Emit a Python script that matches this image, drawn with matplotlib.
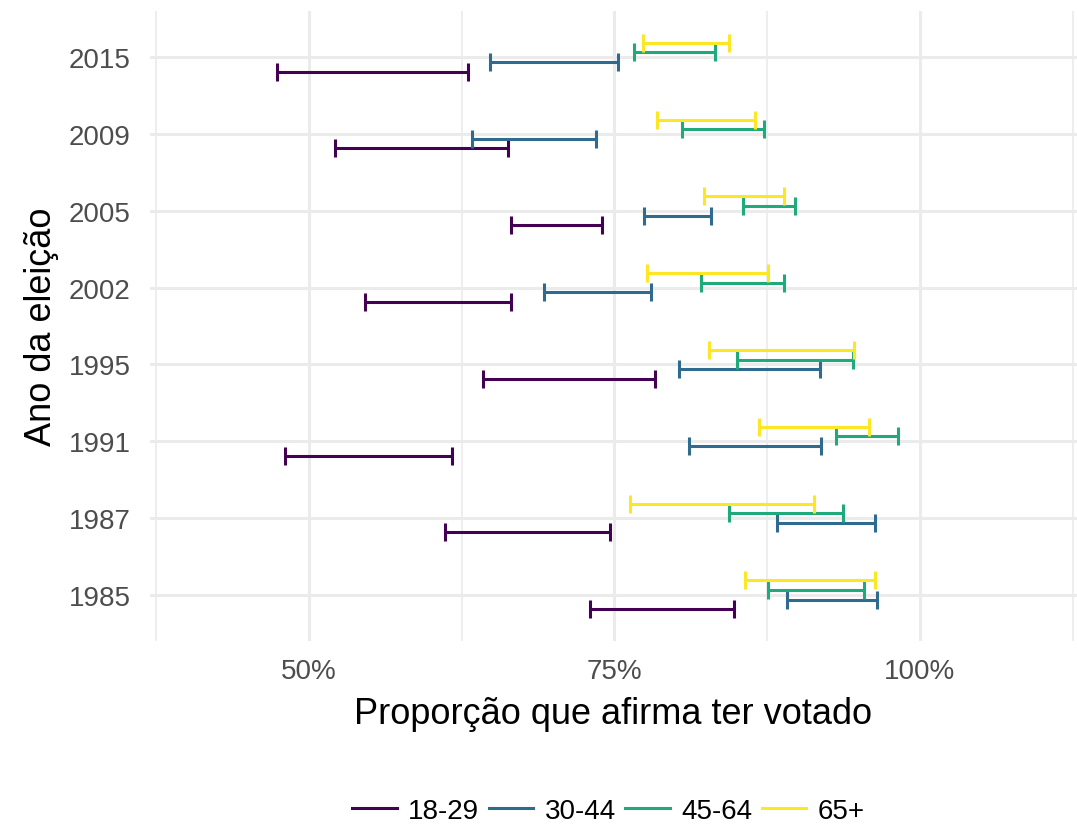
import matplotlib
matplotlib.use("Agg")
import matplotlib.pyplot as plt
from matplotlib.lines import Line2D
from matplotlib.ticker import FixedLocator, FuncFormatter
import numpy as np

plt.rcParams["font.family"] = ["Liberation Sans", "DejaVu Sans"]

# Election years (bottom to top) and age groups
anos = ["1985", "1987", "1991", "1995", "2002", "2005", "2009", "2015"]
grupos = ["18-29", "30-44", "45-64", "65+"]
cores = ["#440154", "#2F6B8E", "#1FAA7C", "#FDE725"]

# Lower / upper bounds of the confidence interval (proportion that says it voted)
inf_18_29 = [0.730, 0.611, 0.480, 0.642, 0.546, 0.665, 0.521, 0.474]
sup_18_29 = [0.848, 0.746, 0.617, 0.783, 0.665, 0.740, 0.663, 0.630]
inf_30_44 = [0.891, 0.883, 0.811, 0.803, 0.692, 0.774, 0.633, 0.648]
sup_30_44 = [0.965, 0.963, 0.919, 0.918, 0.780, 0.829, 0.735, 0.753]
inf_45_64 = [0.876, 0.844, 0.931, 0.850, 0.821, 0.855, 0.805, 0.766]
sup_45_64 = [0.954, 0.937, 0.982, 0.945, 0.889, 0.898, 0.872, 0.832]
inf_65 = [0.857, 0.763, 0.868, 0.827, 0.777, 0.823, 0.785, 0.773]
sup_65 = [0.963, 0.913, 0.958, 0.946, 0.876, 0.889, 0.865, 0.844]

limites = [
    (inf_18_29, sup_18_29),
    (inf_30_44, sup_30_44),
    (inf_45_64, sup_45_64),
    (inf_65, sup_65),
]

fig = plt.figure(figsize=(10.77, 8.29), dpi=100)
ax = fig.add_axes([150 / 1077, 1 - 642 / 829, 927 / 1077, 630 / 829])

y_base = np.arange(len(anos))
largura_dodge = 0.5
n = len(grupos)
for i, ((lo, hi), cor) in enumerate(zip(limites, cores)):
    lo = np.asarray(lo)
    hi = np.asarray(hi)
    desloc = -largura_dodge / 2 + largura_dodge / n * (i + 0.5)
    ax.errorbar((lo + hi) / 2, y_base + desloc, xerr=(hi - lo) / 2,
                fmt="none", ecolor=cor, elinewidth=2.2, capsize=6.3,
                capthick=2.2, zorder=3)

ax.set_xlim(0.3699, 1.1285)
ax.set_ylim(-0.6, len(anos) - 0.4)

ax.xaxis.set_major_locator(FixedLocator([0.5, 0.75, 1.0]))
ax.xaxis.set_minor_locator(FixedLocator([0.375, 0.625, 0.875, 1.125]))
ax.xaxis.set_major_formatter(FuncFormatter(lambda v, p: f"{v * 100:.0f}%"))
ax.set_yticks(y_base)
ax.set_yticklabels(anos)

ax.grid(which="major", color="#EBEBEB", linewidth=2.2, zorder=0)
ax.grid(which="minor", axis="x", color="#EBEBEB", linewidth=1.2, zorder=0)
ax.set_axisbelow(True)
for s in ax.spines.values():
    s.set_visible(False)
ax.tick_params(which="both", length=0)
ax.tick_params(axis="both", labelsize=20, labelcolor="#4D4D4D")
ax.tick_params(axis="x", pad=12)
ax.tick_params(axis="y", pad=14)

ax.set_xlabel("Proporção que afirma ter votado", fontsize=26, labelpad=9)
ax.set_ylabel("Ano da eleição", fontsize=26, labelpad=7)

handles = [Line2D([0], [0], color=c, linewidth=2.2) for c in cores]
fig.legend(handles, grupos, loc="center", bbox_to_anchor=(0.565, 0.021),
           ncol=4, frameon=False, fontsize=20, handlelength=1.6,
           handletextpad=0.4, columnspacing=0.35)

fig.savefig("out.png", dpi=100)
